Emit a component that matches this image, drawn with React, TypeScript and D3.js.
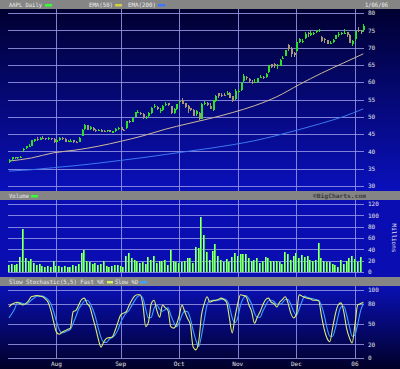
import React from "react";
import * as d3 from "d3";

// ---- Data (AAPL daily, Jul 7 2005 – Jan 6 2006) ----
const opens = [
  36.9,37.8,38.3,38.0,38.3,40.6,40.9,41.4,41.7,43.0,43.7,43.4,43.9,43.8,43.7,43.9,43.6,
  42.6,43.2,43.9,43.6,42.8,43.0,43.2,42.8,42.8,44.5,46.5,47.5,46.4,46.9,46.3,46.0,46.2,45.8,45.8,46.1,45.3,45.9,46.6,
  47.0,46.3,46.7,48.9,48.6,50.0,51.1,51.0,50.9,49.8,50.2,51.1,52.9,52.9,51.9,52.1,53.8,53.9,53.1,51.2,52.3,
  54.2,54.9,54.0,53.2,52.4,51.9,50.7,51.1,49.4,54.0,53.9,53.2,52.0,54.5,56.8,56.4,56.4,56.3,56.9,56.0,55.2,
  57.2,57.7,60.3,61.5,61.0,60.0,60.0,60.2,61.5,61.6,61.6,62.9,65.2,65.3,64.8,64.8,66.9,67.7,70.7,69.9,68.4,
  68.9,71.6,71.8,72.9,74.2,73.6,74.2,74.9,74.8,73.0,72.5,72.1,71.1,71.6,72.6,73.9,74.2,74.0,74.5,73.7,71.0,
  72.4,75.1,74.8,75.2,
];
const highs = [
  37.7,38.3,38.5,38.4,38.6,41.1,41.6,42.1,43.3,43.7,44.1,44.1,44.4,44.0,44.1,44.0,44.0,
  43.4,44.2,44.1,43.8,43.3,43.5,43.4,43.0,44.1,46.5,47.9,47.6,47.4,47.1,46.6,46.4,46.4,46.3,46.2,46.3,46.0,46.8,47.1,
  47.2,46.6,48.9,49.2,49.9,51.4,51.9,51.4,51.0,50.3,51.3,52.9,53.6,53.1,52.5,53.5,54.3,54.0,53.2,52.6,53.6,
  54.7,55.3,54.1,53.5,52.6,52.2,51.9,51.3,53.9,54.6,54.2,53.9,55.0,56.3,57.0,56.8,56.9,57.5,57.1,56.0,57.9,
  58.1,60.0,62.3,61.9,61.3,60.5,60.8,61.2,62.0,61.9,62.7,65.1,65.3,65.5,65.2,66.8,67.5,69.4,71.1,70.3,68.7,
  71.7,72.7,72.4,74.6,74.5,74.8,74.6,75.2,75.5,73.4,72.8,72.2,72.0,72.4,73.6,74.5,74.5,75.4,74.6,73.9,72.1,
  74.8,75.9,75.0,76.7,
];
const lows = [
  36.6,37.5,37.8,37.8,38.0,39.9,40.6,41.2,41.6,42.8,43.0,43.2,43.5,43.3,43.4,43.3,42.5,
  42.5,43.0,43.4,42.7,42.6,42.8,42.5,42.3,42.7,44.4,46.3,46.1,46.2,46.0,45.7,45.8,45.6,45.5,45.6,45.6,45.2,45.7,46.3,
  46.1,46.0,46.6,48.3,48.5,49.9,51.0,50.5,49.5,49.3,49.9,50.9,52.4,51.9,51.2,51.8,53.2,53.0,50.8,50.9,52.1,
  53.8,53.6,52.6,51.0,51.6,50.3,50.3,49.0,49.3,53.3,53.0,52.2,51.8,54.3,55.5,55.8,55.9,56.2,55.3,54.4,55.0,
  57.0,57.6,60.1,60.6,59.8,59.6,59.8,59.8,61.3,61.0,61.3,62.7,64.1,64.0,63.9,64.6,66.6,67.6,69.1,67.3,67.3,
  68.8,71.2,71.2,72.6,73.1,73.3,73.7,74.3,74.6,71.7,71.4,71.0,70.9,71.4,72.4,73.2,73.5,73.9,73.2,71.4,70.6,
  72.0,74.5,73.8,74.6,
];
const closes = [
  37.6,38.25,38.1,38.24,38.35,40.75,41.55,41.49,43.19,43.63,43.29,44.0,43.81,43.63,43.99,43.8,42.65,
  43.19,44.0,43.81,42.81,42.99,43.1,42.7,42.64,44.0,46.1,47.68,46.25,47.15,46.3,45.83,46.27,45.74,45.77,46.06,45.74,45.84,46.57,46.89,
  46.26,46.22,48.8,48.68,49.78,51.31,51.4,50.82,49.61,49.87,51.21,52.64,53.19,52.11,51.9,53.2,53.84,53.44,51.08,52.34,53.61,
  54.44,53.75,52.78,52.16,51.86,50.37,51.59,49.25,53.74,54.0,53.44,52.21,54.94,56.14,56.1,56.2,56.1,57.0,55.4,54.47,57.59,
  57.5,59.95,61.85,61.15,60.23,59.9,60.11,61.18,61.54,61.45,62.28,64.95,64.52,64.56,64.96,66.52,67.11,69.34,69.66,68.1,67.82,
  71.6,72.63,71.82,74.05,73.95,74.08,74.33,74.91,74.98,72.01,72.18,71.11,71.38,72.11,73.5,74.02,74.23,74.23,73.57,71.45,71.89,
  74.75,74.97,74.38,76.3,
];
const volumes = [
  13,15,12,14,27,76,25,20,23,16,12,14,10,9,10,9,19,
  10,11,9,10,9,8,12,10,14,33,39,19,17,15,16,13,14,20,11,9,10,13,12,
  11,8,28,34,25,22,20,16,17,15,27,22,28,16,20,19,21,12,39,20,18,
  16,17,20,25,25,16,44,42,97,65,36,22,37,49,29,22,18,23,17,27,34,
  28,31,32,32,24,19,21,24,16,19,27,25,19,20,20,18,15,36,32,21,28,
  33,24,30,26,29,21,20,21,52,24,20,18,17,14,12,9,21,15,19,24,
  29,23,18,26,
];
const stochK = [
  75,79,81,82,80,78,80,84,90,91,92,91,90,87,82,70,53,
  38,35,38,40,42,44,68,70,78,86,88,80,75,60,45,28,16,24,29,30,31,40,52,
  63,66,68,77,85,91,93,93,78,46,53,80,85,70,60,78,74,70,46,44,49,
  62,78,68,58,49,16,12,24,63,80,90,82,84,85,86,88,86,82,59,37,60,
  80,93,92,90,78,68,51,60,68,78,86,88,82,80,75,82,86,90,81,66,59,
  64,93,91,89,88,87,85,85,84,62,42,29,24,44,65,78,81,68,44,30,22,
  49,78,80,82,
];
const stochD = [
  59,65,72,81,81,80,79,81,85,88,91,91,91,89,86,80,68,
  54,42,37,38,40,42,51,61,72,78,84,85,81,72,60,44,30,23,23,28,30,34,41,
  52,60,66,70,77,84,90,92,88,72,59,60,73,78,72,69,71,74,63,53,46,
  52,63,69,68,58,41,26,17,33,56,78,84,85,84,85,86,87,85,76,59,52,
  59,78,88,92,87,79,66,60,60,69,77,84,85,83,79,79,81,86,86,79,69,
  63,72,83,91,89,88,87,86,85,77,63,44,32,32,44,62,75,76,64,47,32,
  34,50,69,80,
];
const emaIdx = [0, 8, 16, 24, 32, 40, 48, 56, 64, 72, 80, 88, 96, 104, 112, 120, 127];
const ema50 = [37.2, 38.1, 39.6, 40.4, 41.5, 42.9, 44.5, 46.4, 48.0, 49.5, 51.2, 53.2, 55.8, 59.3, 62.6, 65.6, 68.2];
const ema200 = [34.3, 34.7, 35.3, 35.9, 36.6, 37.4, 38.2, 39.1, 40.0, 40.9, 41.9, 43.1, 44.6, 46.3, 48.1, 50.1, 52.3];
const monthTickIdx = [17, 40, 61, 82, 103, 124];
const monthLabels = ["Aug", "Sep", "Oct", "Nov", "Dec", "06"];
const priceTicks = [30, 35, 40, 45, 50, 55, 60, 65, 70, 75, 80];
const volTicks = [0, 20, 40, 60, 80, 100, 120];
const stochTicks = [0, 20, 50, 80, 100];

const W = 400;
const H = 369;
const FONT = "'DejaVu Sans Mono', monospace";
const GRID = "#9898e8";
const LABEL = "#e4e4e4";

export default function App() {
  const n = closes.length;
  const x = d3.scaleLinear().domain([0, n - 1]).range([9, 363.3]);
  const yP = d3.scaleLinear().domain([30, 80]).range([186, 13]);
  const yV = d3.scaleLinear().domain([0, 120]).range([272, 204]);
  const yS = d3.scaleLinear().domain([0, 100]).range([358, 290]);
  const gx0 = 8, gx1 = 364;

  const emaLine = (vals: number[]) =>
    d3.line<number>().x((_, i) => x(emaIdx[i])).y((v) => yP(v)).curve(d3.curveMonotoneX)(vals) || "";
  const stLine = (vals: number[]) =>
    d3.line<number>().x((_, i) => x(i)).y((v) => yS(v)).curve(d3.curveMonotoneX)(vals) || "";

  const txt = (s: string, px: number, py: number, extra: any = {}) => (
    <text x={px} y={py} fontFamily={FONT} fontSize={6} fill={LABEL} {...extra}>{s}</text>
  );
  const head = (s: string, px: number, py: number, len: number, extra: any = {}) => (
    <text x={px} y={py} fontFamily={FONT} fontSize={6} fill="#ececec" textLength={len} lengthAdjust="spacingAndGlyphs" {...extra}>{s}</text>
  );

  return (
    <div style={{ position: "fixed", left: 0, top: 0, width: W, height: H }}>
      <svg width={W} height={H} viewBox={`0 0 ${W} ${H}`} style={{ display: "block" }}>
        <defs>
          <linearGradient id="gP" x1="0" y1="0" x2="0" y2="1">
            <stop offset="0" stopColor="#000030" />
            <stop offset="1" stopColor="#0a10bc" />
          </linearGradient>
          <linearGradient id="gS" x1="0" y1="0" x2="0" y2="1">
            <stop offset="0" stopColor="#0a10b4" />
            <stop offset="1" stopColor="#000028" />
          </linearGradient>
        </defs>
        {/* backgrounds */}
        <rect x={0} y={0} width={W} height={H} fill="#858585" />
        <rect x={0} y={9} width={W} height={182} fill="url(#gP)" />
        <rect x={0} y={200} width={W} height={77} fill="#0a0eb2" />
        <rect x={0} y={286} width={W} height={83} fill="url(#gS)" />

        {/* headers */}
        {head("AAPL Daily", 9, 7, 33)}
        <rect x={45} y={4} width={7} height={2.5} fill="#33ff33" />
        {head("EMA(50)", 89, 7, 24)}
        <rect x={115} y={4} width={7} height={2.5} fill="#d0d040" />
        {head("EMA(200)", 128, 7, 28)}
        <rect x={158} y={4} width={7} height={2.5} fill="#3c78ff" />
        {head("1/06/06", 365, 7, 23)}

        {head("Volume", 9, 198, 20)}
        <rect x={31} y={195} width={7} height={2.5} fill="#33ff33" />
        {head("©BigCharts.com", 313, 198, 53, { fill: "#3a3a3a", fontWeight: "bold" })}

        {head("Slow Stochastic(5,5) Fast %K", 9, 284, 95)}
        <rect x={107} y={281} width={6} height={2.5} fill="#d8f060" />
        {head("Slow %D", 115, 284, 23)}
        <rect x={140} y={281} width={7} height={2.5} fill="#40a0ff" />

        {/* grids */}
        <g shapeRendering="crispEdges">
          {priceTicks.map((t) => (
            <line key={"pg" + t} x1={gx0} x2={gx1} y1={Math.round(yP(t)) + 0.5} y2={Math.round(yP(t)) + 0.5} stroke={GRID} strokeOpacity={0.85} />
          ))}
          {monthTickIdx.map((m) => (
            <line key={"pv" + m} x1={Math.round(x(m)) + 0.5} x2={Math.round(x(m)) + 0.5} y1={9} y2={191} stroke={GRID} strokeOpacity={0.85} />
          ))}
          {volTicks.map((t) => (
            <line key={"vg" + t} x1={gx0} x2={gx1} y1={Math.round(yV(t)) + 0.5} y2={Math.round(yV(t)) + 0.5} stroke={GRID} strokeOpacity={0.85} />
          ))}
          {monthTickIdx.map((m) => (
            <line key={"vv" + m} x1={Math.round(x(m)) + 0.5} x2={Math.round(x(m)) + 0.5} y1={200} y2={277} stroke={GRID} strokeOpacity={0.85} />
          ))}
          {stochTicks.map((t) => (
            <line key={"sg" + t} x1={gx0} x2={gx1} y1={Math.round(yS(t)) + 0.5} y2={Math.round(yS(t)) + 0.5} stroke={GRID} strokeOpacity={0.85} />
          ))}
          {monthTickIdx.map((m) => (
            <line key={"sv" + m} x1={Math.round(x(m)) + 0.5} x2={Math.round(x(m)) + 0.5} y1={286} y2={358} stroke={GRID} strokeOpacity={0.85} />
          ))}
        </g>

        {/* EMA lines */}
        <path d={emaLine(ema200)} fill="none" stroke="#3c78f0" strokeWidth={1} />
        <path d={emaLine(ema50)} fill="none" stroke="#cdb89a" strokeWidth={1} />

        {/* candles */}
        <g shapeRendering="crispEdges">
          {closes.map((c, i) => {
            const o = opens[i];
            const up = c >= o;
            const col = up ? "#2ee02e" : "#a8987a";
            const cx = Math.round(x(i));
            const yTop = yP(Math.max(o, c));
            const yBot = yP(Math.min(o, c));
            return (
              <g key={"c" + i}>
                <line x1={cx + 0.5} x2={cx + 0.5} y1={yP(highs[i])} y2={yP(lows[i])} stroke={col} />
                <rect x={cx - 0.5} y={yTop} width={2} height={Math.max(1, yBot - yTop)} fill={col} />
              </g>
            );
          })}
        </g>

        {/* volume bars */}
        <g shapeRendering="crispEdges">
          {volumes.map((v, i) => {
            const cx = Math.round(x(i));
            const top = yV(v);
            return (
              <g key={"v" + i}>
                <rect x={cx - 1} y={top} width={1} height={yV(0) - top} fill="#a8f8a8" />
                <rect x={cx} y={top} width={1.2} height={yV(0) - top} fill="#2ee02e" />
              </g>
            );
          })}
        </g>

        {/* stochastic */}
        <path d={stLine(stochD)} fill="none" stroke="#40a0ff" strokeWidth={1.1} />
        <path d={stLine(stochK)} fill="none" stroke="#dcf070" strokeWidth={1.1} />

        {/* axis labels */}
        {priceTicks.map((t) => txt(String(t), 368, yP(t) + 2.2, { key: "pl" + t }))}
        {volTicks.map((t) => txt(String(t), 368, yV(t) + 2.2, { key: "vl" + t }))}
        {stochTicks.map((t) => txt(String(t), 368, yS(t) + 2.2, { key: "sl" + t }))}
        <text x={392} y={238} fontFamily={FONT} fontSize={6} fill={LABEL} textAnchor="middle" transform="rotate(90 392 238)">Millions</text>
        {monthTickIdx.map((m, k) => txt(monthLabels[k], x(m), 366, { key: "ml" + m, textAnchor: "middle" }))}
      </svg>
    </div>
  );
}
